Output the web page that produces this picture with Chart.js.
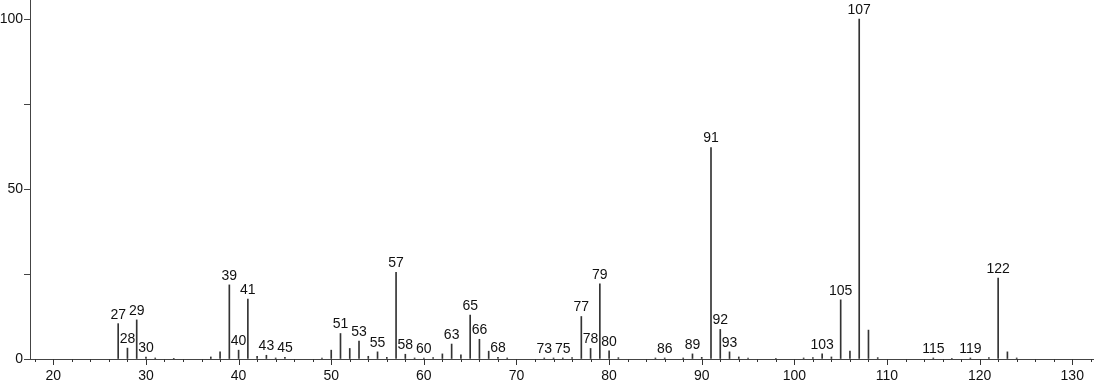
<!DOCTYPE html>
<html>
<head>
<meta charset="utf-8">
<script src="https://cdn.jsdelivr.net/npm/chart.js@4.4.1/dist/chart.umd.min.js"></script>
<style>
  html, body { margin: 0; padding: 0; background: #fff; }
  #espectro { display: block; }
</style>
</head>
<body>
<canvas id="espectro" width="1094" height="384"></canvas>
<script>
// m/z de cada pico y su intensidad relativa (%)
const mz = [27, 28, 29, 30, 31, 33, 37, 38, 39, 40, 41, 42, 43, 44, 45, 49, 50, 51, 52, 53, 54, 55, 56, 57, 58, 59, 60, 61, 62, 63, 64, 65, 66, 67, 68, 69, 73, 74, 75, 76, 77, 78, 79, 80, 81, 85, 86, 88, 89, 90, 91, 92, 93, 94, 95, 98, 101, 102, 103, 104, 105, 106, 107, 108, 109, 115, 117, 119, 121, 122, 123, 124];
const intensidad = [10.4, 3.2, 11.5, 0.6, 0.3, 0.2, 0.6, 2.1, 21.8, 2.6, 17.6, 0.8, 1.1, 0.3, 0.5, 0.3, 2.6, 7.5, 3.1, 5.3, 0.8, 2.1, 0.5, 25.5, 1.4, 0.3, 0.3, 0.4, 1.5, 4.4, 1.2, 12.9, 5.8, 2.3, 0.5, 0.3, 0.3, 0.3, 0.3, 0.4, 12.5, 3.1, 22.1, 2.4, 0.4, 0.3, 0.3, 0.3, 1.5, 0.5, 62.2, 8.7, 2.1, 0.6, 0.3, 0.2, 0.3, 0.4, 1.5, 0.6, 17.4, 2.3, 100, 8.5, 0.4, 0.3, 0.2, 0.3, 0.4, 23.8, 2.1, 0.3];

// picos que llevan etiqueta
const etiquetados = [27, 28, 29, 30, 39, 40, 41, 43, 45, 51, 53, 55, 57, 58, 60, 63, 65, 66, 68, 73, 75, 77, 78, 79, 80, 86, 89, 91, 92, 93, 103, 105, 107, 115, 119, 122];

// marcas de los ejes
const pasoX = 2;
const pasoXEtiqueta = 10;
const pasoY = 25;
const pasoYEtiqueta = 50;

const fuente = '"Liberation Sans", Arial, sans-serif';

// Etiquetas sobre los picos
const etiquetasPicos = {
  id: 'etiquetasPicos',
  afterDatasetsDraw(chart) {
    const ctx = chart.ctx;
    const meta = chart.getDatasetMeta(0);
    ctx.save();
    ctx.font = '14px ' + fuente;
    ctx.fillStyle = '#111';
    ctx.textAlign = 'center';
    ctx.textBaseline = 'bottom';
    meta.data.forEach((barra, i) => {
      if (!etiquetados.includes(mz[i])) return;
      ctx.fillText(String(mz[i]), barra.x, barra.y - 2);
    });
    ctx.restore();
  }
};

// Marcas del eje x: largas cada 10, cortas cada 2
const marcasX = {
  id: 'marcasX',
  afterDraw(chart) {
    const s = chart.scales.x;
    const ctx = chart.ctx;
    ctx.save();
    ctx.strokeStyle = '#333';
    ctx.lineWidth = 1;
    s.ticks.forEach((t, i) => {
      const px = Math.round(s.getPixelForTick(i)) + 0.5;
      const largo = t.value % pasoXEtiqueta === 0 ? 6 : 3;
      ctx.beginPath();
      ctx.moveTo(px, s.top);
      ctx.lineTo(px, s.top + largo);
      ctx.stroke();
    });
    ctx.restore();
  }
};

// sin márgenes extra alrededor del área del gráfico
function sinRelleno(s) {
  s.paddingTop = 0;
  s.paddingBottom = 0;
  s.paddingLeft = 0;
  s.paddingRight = 0;
}

new Chart(document.getElementById('espectro').getContext('2d'), {
  type: 'bar',
  data: {
    datasets: [{
      data: mz.map((m, i) => ({ x: m, y: intensidad[i] })),
      backgroundColor: '#333',
      borderWidth: 0,
      barThickness: 1
    }]
  },
  options: {
    responsive: false,
    animation: false,
    devicePixelRatio: 1,
    layout: { padding: { top: 0, right: 1, left: 0, bottom: 0 } },
    plugins: {
      legend: { display: false },
      tooltip: { enabled: false }
    },
    scales: {
      x: {
        type: 'linear',
        min: 17.48,
        max: 132.24,
        offset: false,
        grid: { display: true, drawOnChartArea: false, drawTicks: false, offset: false },
        border: { display: true, color: '#444', width: 1 },
        ticks: {
          stepSize: pasoX,
          includeBounds: false,
          autoSkip: false,
          maxRotation: 0,
          padding: 9,
          color: '#111',
          font: { size: 14, family: fuente },
          callback: v => (v % pasoXEtiqueta === 0 ? String(v) : '')
        },
        afterFit: s => { s.height = 25; sinRelleno(s); }
      },
      y: {
        min: 0,
        max: 105.6,
        grid: { drawOnChartArea: false, drawTicks: true, tickLength: 6, tickColor: '#444' },
        border: { display: true, color: '#444', width: 1 },
        ticks: {
          stepSize: pasoY,
          includeBounds: false,
          padding: 1,
          color: '#111',
          font: { size: 14, family: fuente },
          callback: v => (v % pasoYEtiqueta === 0 ? String(v) : '')
        },
        afterFit: s => { s.width = 30; sinRelleno(s); }
      }
    }
  },
  plugins: [etiquetasPicos, marcasX]
});
</script>
</body>
</html>
